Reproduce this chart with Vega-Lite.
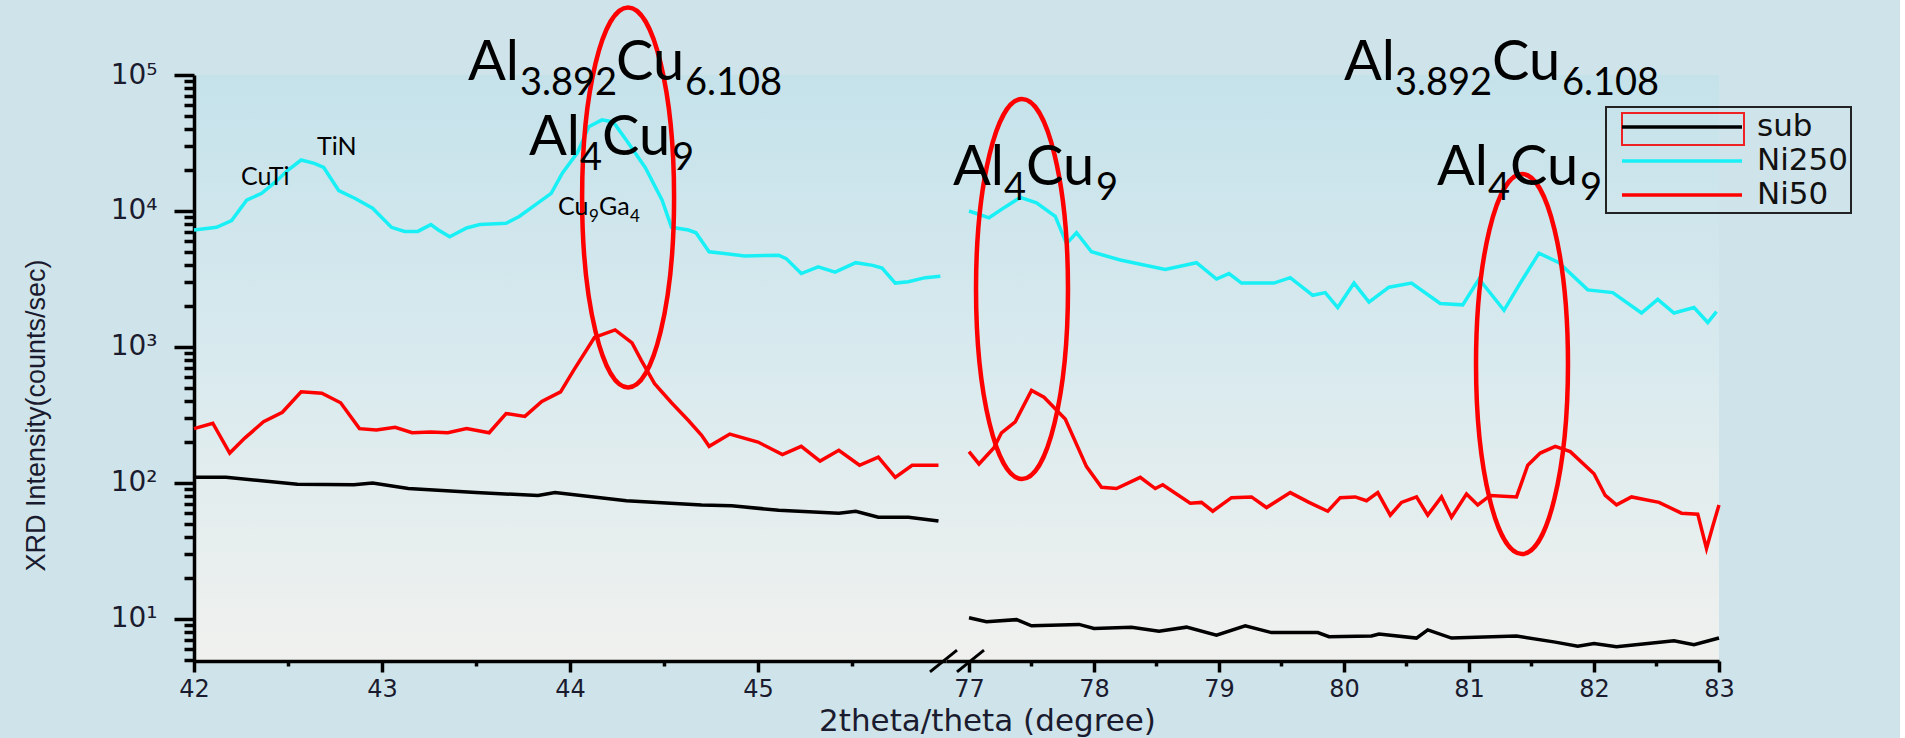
{
  "$schema": "https://vega.github.io/schema/vega-lite/v6.json",
  "background": "#cfe4ea",
  "padding": {"left": 22, "top": -2, "right": 48, "bottom": 3},
  "bounds": "flush",
  "spacing": 0,
  "config": {
    "view": {"stroke": null, "fill": {"gradient": "linear", "x1": 0, "y1": 0, "x2": 0, "y2": 1, "stops": [{"offset": 0, "color": "#c5e2ea"}, {"offset": 0.5, "color": "#d9eaee"}, {"offset": 1, "color": "#f0f1ee"}]}},
    "axis": {"domainColor": "#000000", "domainWidth": 3.5, "tickColor": "#000000", "tickWidth": 3.5, "grid": false, "labelFont": "DejaVu Sans", "labelColor": "#1b1b2f", "labelOverlap": false, "labelFlush": false, "labelBound": false},
    "axisX": {"labelFontSize": 24},
    "axisY": {"labelFontSize": 28},
    "legend": {"strokeWidth": 2},
    "text": {"font": "Lato", "color": "#000000", "align": "left", "baseline": "alphabetic"}
  },
  "resolve": {"scale": {"color": "independent"}, "legend": {"color": "independent"}},
  "datasets": {
    "xrd": [
      {"seg":"L","s":"Ni250","x":42.00,"y":7244},{"seg":"L","s":"Ni250","x":42.12,"y":7586},{"seg":"L","s":"Ni250","x":42.20,"y":8511},{"seg":"L","s":"Ni250","x":42.28,"y":12023},{"seg":"L","s":"Ni250","x":42.36,"y":13490},{"seg":"L","s":"Ni250","x":42.43,"y":16218},{"seg":"L","s":"Ni250","x":42.50,"y":19953},{"seg":"L","s":"Ni250","x":42.57,"y":23714},{"seg":"L","s":"Ni250","x":42.64,"y":22387},{"seg":"L","s":"Ni250","x":42.69,"y":20893},{"seg":"L","s":"Ni250","x":42.77,"y":14125},{"seg":"L","s":"Ni250","x":42.86,"y":12303},{"seg":"L","s":"Ni250","x":42.95,"y":10471},{"seg":"L","s":"Ni250","x":43.05,"y":7586},{"seg":"L","s":"Ni250","x":43.12,"y":7079},{"seg":"L","s":"Ni250","x":43.19,"y":7079},{"seg":"L","s":"Ni250","x":43.26,"y":7943},{"seg":"L","s":"Ni250","x":43.30,"y":7244},{"seg":"L","s":"Ni250","x":43.36,"y":6457},{"seg":"L","s":"Ni250","x":43.45,"y":7499},{"seg":"L","s":"Ni250","x":43.52,"y":7943},{"seg":"L","s":"Ni250","x":43.66,"y":8128},{"seg":"L","s":"Ni250","x":43.73,"y":9120},{"seg":"L","s":"Ni250","x":43.83,"y":11482},{"seg":"L","s":"Ni250","x":43.90,"y":13490},{"seg":"L","s":"Ni250","x":43.96,"y":19055},{"seg":"L","s":"Ni250","x":44.04,"y":26915},{"seg":"L","s":"Ni250","x":44.10,"y":41687},{"seg":"L","s":"Ni250","x":44.17,"y":46774},{"seg":"L","s":"Ni250","x":44.23,"y":45186},{"seg":"L","s":"Ni250","x":44.30,"y":33113},{"seg":"L","s":"Ni250","x":44.40,"y":20893},{"seg":"L","s":"Ni250","x":44.49,"y":12023},{"seg":"L","s":"Ni250","x":44.54,"y":7586},{"seg":"L","s":"Ni250","x":44.63,"y":7244},{"seg":"L","s":"Ni250","x":44.67,"y":6918},{"seg":"L","s":"Ni250","x":44.74,"y":5012},{"seg":"L","s":"Ni250","x":44.81,"y":4898},{"seg":"L","s":"Ni250","x":44.93,"y":4677},{"seg":"L","s":"Ni250","x":45.11,"y":4732},{"seg":"L","s":"Ni250","x":45.15,"y":4467},{"seg":"L","s":"Ni250","x":45.23,"y":3467},{"seg":"L","s":"Ni250","x":45.32,"y":3890},{"seg":"L","s":"Ni250","x":45.41,"y":3548},{"seg":"L","s":"Ni250","x":45.52,"y":4169},{"seg":"L","s":"Ni250","x":45.61,"y":3981},{"seg":"L","s":"Ni250","x":45.66,"y":3802},{"seg":"L","s":"Ni250","x":45.73,"y":2951},{"seg":"L","s":"Ni250","x":45.80,"y":3020},{"seg":"L","s":"Ni250","x":45.89,"y":3236},{"seg":"L","s":"Ni250","x":45.97,"y":3311},
      {"seg":"L","s":"Ni50","x":42.00,"y":251},{"seg":"L","s":"Ni50","x":42.10,"y":275},{"seg":"L","s":"Ni50","x":42.19,"y":166},{"seg":"L","s":"Ni50","x":42.27,"y":214},{"seg":"L","s":"Ni50","x":42.37,"y":282},{"seg":"L","s":"Ni50","x":42.47,"y":331},{"seg":"L","s":"Ni50","x":42.57,"y":468},{"seg":"L","s":"Ni50","x":42.68,"y":457},{"seg":"L","s":"Ni50","x":42.78,"y":389},{"seg":"L","s":"Ni50","x":42.88,"y":251},{"seg":"L","s":"Ni50","x":42.97,"y":245},{"seg":"L","s":"Ni50","x":43.07,"y":257},{"seg":"L","s":"Ni50","x":43.16,"y":234},{"seg":"L","s":"Ni50","x":43.26,"y":237},{"seg":"L","s":"Ni50","x":43.35,"y":234},{"seg":"L","s":"Ni50","x":43.45,"y":251},{"seg":"L","s":"Ni50","x":43.57,"y":234},{"seg":"L","s":"Ni50","x":43.66,"y":324},{"seg":"L","s":"Ni50","x":43.76,"y":309},{"seg":"L","s":"Ni50","x":43.85,"y":398},{"seg":"L","s":"Ni50","x":43.95,"y":468},{"seg":"L","s":"Ni50","x":44.02,"y":676},{"seg":"L","s":"Ni50","x":44.13,"y":1175},{"seg":"L","s":"Ni50","x":44.24,"y":1334},{"seg":"L","s":"Ni50","x":44.33,"y":1072},{"seg":"L","s":"Ni50","x":44.38,"y":794},{"seg":"L","s":"Ni50","x":44.45,"y":537},{"seg":"L","s":"Ni50","x":44.54,"y":389},{"seg":"L","s":"Ni50","x":44.63,"y":288},{"seg":"L","s":"Ni50","x":44.70,"y":224},{"seg":"L","s":"Ni50","x":44.74,"y":186},{"seg":"L","s":"Ni50","x":44.85,"y":229},{"seg":"L","s":"Ni50","x":45.00,"y":200},{"seg":"L","s":"Ni50","x":45.13,"y":162},{"seg":"L","s":"Ni50","x":45.23,"y":186},{"seg":"L","s":"Ni50","x":45.33,"y":145},{"seg":"L","s":"Ni50","x":45.43,"y":174},{"seg":"L","s":"Ni50","x":45.54,"y":135},{"seg":"L","s":"Ni50","x":45.64,"y":155},{"seg":"L","s":"Ni50","x":45.73,"y":110},{"seg":"L","s":"Ni50","x":45.82,"y":135},{"seg":"L","s":"Ni50","x":45.96,"y":135},
      {"seg":"L","s":"sub","x":42.00,"y":110},{"seg":"L","s":"sub","x":42.17,"y":110},{"seg":"L","s":"sub","x":42.36,"y":104},{"seg":"L","s":"sub","x":42.55,"y":98},{"seg":"L","s":"sub","x":42.85,"y":97},{"seg":"L","s":"sub","x":42.95,"y":100},{"seg":"L","s":"sub","x":43.14,"y":91},{"seg":"L","s":"sub","x":43.50,"y":85},{"seg":"L","s":"sub","x":43.83,"y":81},{"seg":"L","s":"sub","x":43.92,"y":85},{"seg":"L","s":"sub","x":44.30,"y":74},{"seg":"L","s":"sub","x":44.70,"y":69},{"seg":"L","s":"sub","x":44.86,"y":68},{"seg":"L","s":"sub","x":45.11,"y":63},{"seg":"L","s":"sub","x":45.43,"y":60},{"seg":"L","s":"sub","x":45.52,"y":62},{"seg":"L","s":"sub","x":45.64,"y":56},{"seg":"L","s":"sub","x":45.80,"y":56},{"seg":"L","s":"sub","x":45.96,"y":52.5},
      {"seg":"R","s":"Ni250","x":77.00,"y":10000},{"seg":"R","s":"Ni250","x":77.16,"y":8913},{"seg":"R","s":"Ni250","x":77.29,"y":10715},{"seg":"R","s":"Ni250","x":77.41,"y":12589},{"seg":"R","s":"Ni250","x":77.54,"y":11482},{"seg":"R","s":"Ni250","x":77.69,"y":9120},{"seg":"R","s":"Ni250","x":77.78,"y":5754},{"seg":"R","s":"Ni250","x":77.86,"y":6918},{"seg":"R","s":"Ni250","x":77.98,"y":5012},{"seg":"R","s":"Ni250","x":78.21,"y":4365},{"seg":"R","s":"Ni250","x":78.57,"y":3715},{"seg":"R","s":"Ni250","x":78.82,"y":4169},{"seg":"R","s":"Ni250","x":78.98,"y":3162},{"seg":"R","s":"Ni250","x":79.08,"y":3467},{"seg":"R","s":"Ni250","x":79.18,"y":2951},{"seg":"R","s":"Ni250","x":79.44,"y":2951},{"seg":"R","s":"Ni250","x":79.57,"y":3236},{"seg":"R","s":"Ni250","x":79.75,"y":2399},{"seg":"R","s":"Ni250","x":79.85,"y":2512},{"seg":"R","s":"Ni250","x":79.95,"y":1950},{"seg":"R","s":"Ni250","x":80.08,"y":2951},{"seg":"R","s":"Ni250","x":80.20,"y":2138},{"seg":"R","s":"Ni250","x":80.36,"y":2754},{"seg":"R","s":"Ni250","x":80.54,"y":2951},{"seg":"R","s":"Ni250","x":80.77,"y":2089},{"seg":"R","s":"Ni250","x":80.95,"y":2042},{"seg":"R","s":"Ni250","x":81.08,"y":3162},{"seg":"R","s":"Ni250","x":81.28,"y":1862},{"seg":"R","s":"Ni250","x":81.41,"y":2951},{"seg":"R","s":"Ni250","x":81.56,"y":4898},{"seg":"R","s":"Ni250","x":81.72,"y":4169},{"seg":"R","s":"Ni250","x":81.95,"y":2630},{"seg":"R","s":"Ni250","x":82.15,"y":2512},{"seg":"R","s":"Ni250","x":82.38,"y":1778},{"seg":"R","s":"Ni250","x":82.51,"y":2239},{"seg":"R","s":"Ni250","x":82.64,"y":1778},{"seg":"R","s":"Ni250","x":82.80,"y":1950},{"seg":"R","s":"Ni250","x":82.91,"y":1514},{"seg":"R","s":"Ni250","x":82.98,"y":1820},
      {"seg":"R","s":"Ni50","x":77.00,"y":170},{"seg":"R","s":"Ni50","x":77.08,"y":138},{"seg":"R","s":"Ni50","x":77.20,"y":182},{"seg":"R","s":"Ni50","x":77.26,"y":234},{"seg":"R","s":"Ni50","x":77.37,"y":282},{"seg":"R","s":"Ni50","x":77.50,"y":479},{"seg":"R","s":"Ni50","x":77.60,"y":427},{"seg":"R","s":"Ni50","x":77.77,"y":295},{"seg":"R","s":"Ni50","x":77.94,"y":132},{"seg":"R","s":"Ni50","x":78.06,"y":93},{"seg":"R","s":"Ni50","x":78.18,"y":91},{"seg":"R","s":"Ni50","x":78.37,"y":110},{"seg":"R","s":"Ni50","x":78.49,"y":91},{"seg":"R","s":"Ni50","x":78.55,"y":97},{"seg":"R","s":"Ni50","x":78.77,"y":71},{"seg":"R","s":"Ni50","x":78.86,"y":72},{"seg":"R","s":"Ni50","x":78.95,"y":62},{"seg":"R","s":"Ni50","x":79.10,"y":78},{"seg":"R","s":"Ni50","x":79.26,"y":79},{"seg":"R","s":"Ni50","x":79.38,"y":66},{"seg":"R","s":"Ni50","x":79.57,"y":85},{"seg":"R","s":"Ni50","x":79.72,"y":72},{"seg":"R","s":"Ni50","x":79.87,"y":62},{"seg":"R","s":"Ni50","x":79.97,"y":78},{"seg":"R","s":"Ni50","x":80.09,"y":79},{"seg":"R","s":"Ni50","x":80.18,"y":74},{"seg":"R","s":"Ni50","x":80.27,"y":85},{"seg":"R","s":"Ni50","x":80.37,"y":58},{"seg":"R","s":"Ni50","x":80.46,"y":72},{"seg":"R","s":"Ni50","x":80.58,"y":79},{"seg":"R","s":"Ni50","x":80.67,"y":58},{"seg":"R","s":"Ni50","x":80.78,"y":79},{"seg":"R","s":"Ni50","x":80.86,"y":56},{"seg":"R","s":"Ni50","x":80.98,"y":83},{"seg":"R","s":"Ni50","x":81.07,"y":69},{"seg":"R","s":"Ni50","x":81.17,"y":81},{"seg":"R","s":"Ni50","x":81.38,"y":79},{"seg":"R","s":"Ni50","x":81.47,"y":135},{"seg":"R","s":"Ni50","x":81.57,"y":166},{"seg":"R","s":"Ni50","x":81.69,"y":186},{"seg":"R","s":"Ni50","x":81.81,"y":170},{"seg":"R","s":"Ni50","x":82.00,"y":117},{"seg":"R","s":"Ni50","x":82.09,"y":81},{"seg":"R","s":"Ni50","x":82.18,"y":69},{"seg":"R","s":"Ni50","x":82.30,"y":79},{"seg":"R","s":"Ni50","x":82.52,"y":72},{"seg":"R","s":"Ni50","x":82.70,"y":60},{"seg":"R","s":"Ni50","x":82.83,"y":59},{"seg":"R","s":"Ni50","x":82.90,"y":33},{"seg":"R","s":"Ni50","x":82.95,"y":48},{"seg":"R","s":"Ni50","x":83.00,"y":69},
      {"seg":"R","s":"sub","x":77.00,"y":10.2},{"seg":"R","s":"sub","x":77.14,"y":9.55},{"seg":"R","s":"sub","x":77.38,"y":9.89},{"seg":"R","s":"sub","x":77.50,"y":8.91},{"seg":"R","s":"sub","x":77.88,"y":9.12},{"seg":"R","s":"sub","x":78.00,"y":8.51},{"seg":"R","s":"sub","x":78.30,"y":8.71},{"seg":"R","s":"sub","x":78.52,"y":8.13},{"seg":"R","s":"sub","x":78.74,"y":8.71},{"seg":"R","s":"sub","x":78.98,"y":7.59},{"seg":"R","s":"sub","x":79.21,"y":8.91},{"seg":"R","s":"sub","x":79.42,"y":7.94},{"seg":"R","s":"sub","x":79.79,"y":7.94},{"seg":"R","s":"sub","x":79.88,"y":7.41},{"seg":"R","s":"sub","x":80.22,"y":7.50},{"seg":"R","s":"sub","x":80.28,"y":7.76},{"seg":"R","s":"sub","x":80.58,"y":7.24},{"seg":"R","s":"sub","x":80.67,"y":8.32},{"seg":"R","s":"sub","x":80.86,"y":7.24},{"seg":"R","s":"sub","x":81.38,"y":7.50},{"seg":"R","s":"sub","x":81.69,"y":6.76},{"seg":"R","s":"sub","x":81.87,"y":6.31},{"seg":"R","s":"sub","x":82.00,"y":6.61},{"seg":"R","s":"sub","x":82.18,"y":6.24},{"seg":"R","s":"sub","x":82.43,"y":6.61},{"seg":"R","s":"sub","x":82.64,"y":6.92},{"seg":"R","s":"sub","x":82.80,"y":6.46},{"seg":"R","s":"sub","x":83.00,"y":7.24}
    ],
    "ann": [
      {"seg":"L","x":43.4574,"y":91900,"t":"Al","r":"big"},{"seg":"L","x":43.734,"y":71270,"t":"3.892","r":"bigsub"},{"seg":"L","x":44.2447,"y":91900,"t":"Cu","r":"big"},{"seg":"L","x":44.6117,"y":71270,"t":"6.108","r":"bigsub"},
      {"seg":"L","x":43.7819,"y":25813,"t":"Al","r":"big"},{"seg":"L","x":44.0532,"y":20022,"t":"4","r":"bigsub"},{"seg":"L","x":44.1702,"y":25813,"t":"Cu","r":"big"},{"seg":"L","x":44.5426,"y":20022,"t":"9","r":"bigsub"},
      {"seg":"L","x":42.25,"y":15534,"t":"CuTi","r":"small"},{"seg":"L","x":42.6543,"y":25813,"t":"TiN","r":"small"},
      {"seg":"L","x":43.9362,"y":9346,"t":"Cu","r":"small"},{"seg":"L","x":44.1011,"y":8301,"t":"9","r":"smallsub"},{"seg":"L","x":44.1543,"y":9346,"t":"Ga","r":"small"},{"seg":"L","x":44.3191,"y":8301,"t":"4","r":"smallsub"},
      {"seg":"R","x":80.0,"y":91900,"t":"Al","r":"big"},{"seg":"R","x":80.408,"y":71270,"t":"3.892","r":"bigsub"},{"seg":"R","x":81.184,"y":91900,"t":"Cu","r":"big"},{"seg":"R","x":81.744,"y":71270,"t":"6.108","r":"bigsub"},
      {"seg":"R","x":76.872,"y":15534,"t":"Al","r":"big"},{"seg":"R","x":77.28,"y":12045,"t":"4","r":"bigsub"},{"seg":"R","x":77.456,"y":15534,"t":"Cu","r":"big"},{"seg":"R","x":78.016,"y":12045,"t":"9","r":"bigsub"},
      {"seg":"R","x":80.744,"y":15534,"t":"Al","r":"big"},{"seg":"R","x":81.152,"y":12045,"t":"4","r":"bigsub"},{"seg":"R","x":81.328,"y":15534,"t":"Cu","r":"big"},{"seg":"R","x":81.888,"y":12045,"t":"9","r":"bigsub"}
    ],
    "ell": [
      {"seg":"L","x":44.309,"y":12573},
      {"seg":"R","x":77.424,"y":2670},
      {"seg":"R","x":81.424,"y":750}
    ],
    "brk": [{"x":76.904,"y":4.91}],
    "hl": [{"x":82.712,"y":40090}]
  },
  "hconcat": [
    {
      "width": 752,
      "height": 586,
      "layer": [
        {
          "data": {"name": "xrd"},
          "transform": [{"filter": "datum.seg == 'L'"}],
          "mark": {"type": "line", "strokeWidth": 3.5},
          "encoding": {
            "x": {"field": "x", "type": "quantitative", "scale": {"domain": [42, 46], "nice": false, "zero": false},
              "axis": {"values": [42, 42.5, 43, 43.5, 44, 44.5, 45, 45.5], "labelExpr": "datum.value % 1 == 0 ? format(datum.value, 'd') : ''", "tickSize": {"condition": {"test": "datum.value % 1 != 0", "value": 5}, "value": 11}, "labelPadding": 5, "title": null}},
            "y": {"field": "y", "type": "quantitative", "scale": {"type": "log", "domain": [4.91, 100000], "nice": false},
              "axis": {"values": [5,6,7,8,9,10,20,30,40,50,60,70,80,90,100,200,300,400,500,600,700,800,900,1000,2000,3000,4000,5000,6000,7000,8000,9000,10000,20000,30000,40000,50000,60000,70000,80000,90000,100000],
                "labelExpr": "datum.value == 10 ? '10¹' : datum.value == 100 ? '10²' : datum.value == 1000 ? '10³' : datum.value == 10000 ? '10⁴' : datum.value == 100000 ? '10⁵' : ''",
                "tickSize": {"condition": {"test": "datum.value == 10 || datum.value == 100 || datum.value == 1000 || datum.value == 10000 || datum.value == 100000", "value": 20}, "value": 10},
                "labelPadding": 17,
                "title": "XRD Intensity(counts/sec)", "titleFont": "Liberation Sans", "titleFontSize": 27, "titleFontWeight": "normal", "titleColor": "#1b1b2f", "titleX": -150, "titleY": 340, "titleBaseline": "alphabetic"}},
            "color": {"field": "s", "type": "nominal", "scale": {"domain": ["sub", "Ni250", "Ni50"], "range": ["#000000", "#19f0f5", "#ff0000"]}, "legend": null}
          }
        },
        {
          "data": {"name": "ell"},
          "transform": [{"filter": "datum.seg == 'L'"}],
          "mark": {"type": "point", "shape": "M-0.242,0A0.242,1,0,1,0,0.242,0A0.242,1,0,1,0,-0.242,0Z", "size": 144400, "filled": false, "color": "#ff0000", "strokeWidth": 4.5, "opacity": 1},
          "encoding": {"x": {"field": "x", "type": "quantitative"}, "y": {"field": "y", "type": "quantitative"}}
        },
        {
          "data": {"name": "ann"},
          "transform": [{"filter": "datum.seg == 'L' && datum.r == 'big'"}],
          "mark": {"type": "text", "fontSize": 56},
          "encoding": {"x": {"field": "x", "type": "quantitative"}, "y": {"field": "y", "type": "quantitative"}, "text": {"field": "t"}}
        },
        {
          "data": {"name": "ann"},
          "transform": [{"filter": "datum.seg == 'L' && datum.r == 'bigsub'"}],
          "mark": {"type": "text", "fontSize": 38},
          "encoding": {"x": {"field": "x", "type": "quantitative"}, "y": {"field": "y", "type": "quantitative"}, "text": {"field": "t"}}
        },
        {
          "data": {"name": "ann"},
          "transform": [{"filter": "datum.seg == 'L' && datum.r == 'small'"}],
          "mark": {"type": "text", "fontSize": 25},
          "encoding": {"x": {"field": "x", "type": "quantitative"}, "y": {"field": "y", "type": "quantitative"}, "text": {"field": "t"}}
        },
        {
          "data": {"name": "ann"},
          "transform": [{"filter": "datum.seg == 'L' && datum.r == 'smallsub'"}],
          "mark": {"type": "text", "fontSize": 17},
          "encoding": {"x": {"field": "x", "type": "quantitative"}, "y": {"field": "y", "type": "quantitative"}, "text": {"field": "t"}}
        }
      ]
    },
    {
      "width": 773,
      "height": 586,
      "layer": [
        {
          "data": {"name": "xrd"},
          "transform": [{"filter": "datum.seg == 'R'"}],
          "mark": {"type": "line", "strokeWidth": 3.5},
          "encoding": {
            "x": {"field": "x", "type": "quantitative", "scale": {"domain": [76.816, 83], "nice": false, "zero": false},
              "axis": {"values": [77, 77.5, 78, 78.5, 79, 79.5, 80, 80.5, 81, 81.5, 82, 82.5, 83], "labelExpr": "datum.value % 1 == 0 ? format(datum.value, 'd') : ''", "tickSize": {"condition": {"test": "datum.value % 1 != 0", "value": 5}, "value": 11}, "labelPadding": 5,
                "title": "2theta/theta (degree)", "titleFont": "DejaVu Sans", "titleFontSize": 31, "titleFontWeight": "normal", "titleColor": "#1b1b2f", "titleX": 41, "titleY": 69, "titleBaseline": "alphabetic", "titleAlign": "center"}},
            "y": {"field": "y", "type": "quantitative", "scale": {"type": "log", "domain": [4.91, 100000], "nice": false}, "axis": null},
            "color": {"field": "s", "type": "nominal", "scale": {"domain": ["sub", "Ni250", "Ni50"], "range": ["#000000", "#19f0f5", "#ff0000"]},
              "legend": {"orient": "none", "legendX": 660, "legendY": 32, "title": null, "symbolType": "M-4,0H4", "symbolSize": 900, "symbolStrokeWidth": 3.5, "symbolOffset": 56, "labelOffset": 58, "labelFont": "DejaVu Sans", "labelFontSize": 31, "labelColor": "#111111", "labelLimit": 400, "padding": 3, "rowPadding": 2, "strokeColor": "#222222"}}
          }
        },
        {
          "data": {"name": "ell"},
          "transform": [{"filter": "datum.seg == 'R'"}],
          "mark": {"type": "point", "shape": "M-0.242,0A0.242,1,0,1,0,0.242,0A0.242,1,0,1,0,-0.242,0Z", "size": 144400, "filled": false, "color": "#ff0000", "strokeWidth": 4.5, "opacity": 1},
          "encoding": {"x": {"field": "x", "type": "quantitative"}, "y": {"field": "y", "type": "quantitative"}}
        },
        {
          "data": {"name": "hl"},
          "mark": {"type": "point", "shape": "M-1,-0.262H1V0.262H-1Z", "size": 14884, "filled": false, "color": "#ee2222", "strokeWidth": 2, "opacity": 1},
          "encoding": {"x": {"field": "x", "type": "quantitative"}, "y": {"field": "y", "type": "quantitative"}}
        },
        {
          "data": {"name": "brk"},
          "mark": {"type": "point", "shape": "M-1,0.4L0,-0.4M0,0.4L1,-0.4", "size": 2916, "filled": false, "color": "#000000", "strokeWidth": 3, "opacity": 1},
          "encoding": {"x": {"field": "x", "type": "quantitative"}, "y": {"field": "y", "type": "quantitative"}}
        },
        {
          "data": {"name": "ann"},
          "transform": [{"filter": "datum.seg == 'R' && datum.r == 'big'"}],
          "mark": {"type": "text", "fontSize": 56},
          "encoding": {"x": {"field": "x", "type": "quantitative"}, "y": {"field": "y", "type": "quantitative"}, "text": {"field": "t"}}
        },
        {
          "data": {"name": "ann"},
          "transform": [{"filter": "datum.seg == 'R' && datum.r == 'bigsub'"}],
          "mark": {"type": "text", "fontSize": 38},
          "encoding": {"x": {"field": "x", "type": "quantitative"}, "y": {"field": "y", "type": "quantitative"}, "text": {"field": "t"}}
        }
      ]
    }
  ]
}
